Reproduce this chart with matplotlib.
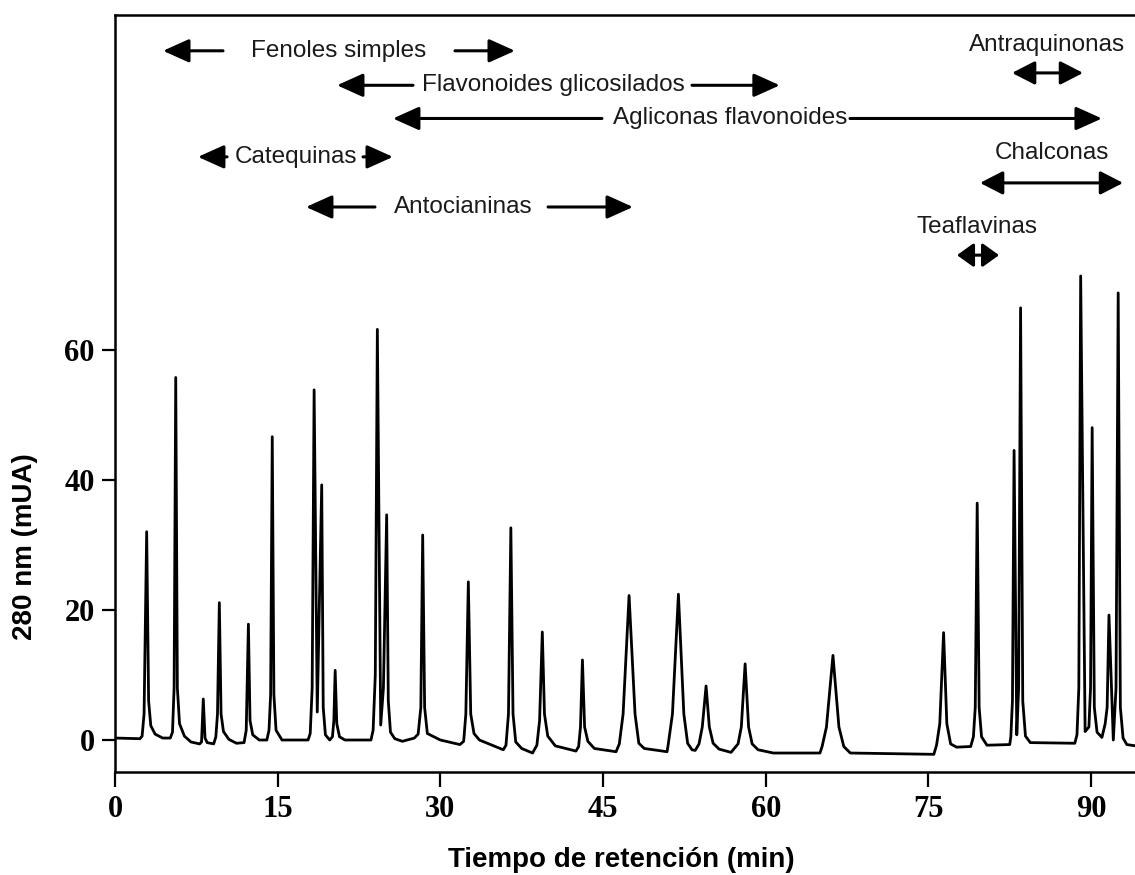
import matplotlib
matplotlib.use("Agg")
import matplotlib.pyplot as plt
from matplotlib.font_manager import FontProperties

# chromatogram trace at 280 nm: retention time (min) and signal (mUA) vertices
tiempo = [
    0.0, 2.3,
    2.5, 2.68, 2.92, 3.1, 3.3, 3.7, 4.4, 5.1,               # pico 1
    5.3, 5.45, 5.6, 5.75, 5.95, 6.4, 7.0, 7.8,              # pico 2
    7.98, 8.14, 8.3, 8.5, 9.1,                              # pico 3
    9.3, 9.45, 9.62, 9.78, 10.0, 10.5, 11.2, 11.9,          # pico 4
    12.1, 12.3, 12.45, 12.7, 13.3, 14.0,                    # pico 5
    14.2, 14.35, 14.5, 14.65, 14.85, 15.4, 17.8,            # pico 6
    18.0, 18.18, 18.36, 18.65, 19.06, 19.2, 19.4, 19.8,     # picos 7-8
    20.05, 20.18, 20.3, 20.45, 20.7, 21.2, 23.6,            # pico 9
    23.8, 24.0, 24.19, 24.5, 24.75, 25.05, 25.2, 25.4, 25.8, 26.5, 27.6, 27.95,  # picos 10-11
    28.2, 28.37, 28.55, 28.8, 30.0, 31.8,                   # pico 12
    32.15, 32.35, 32.58, 32.8, 33.1, 33.6, 35.8,            # pico 13
    36.05, 36.28, 36.5, 36.7, 36.95, 37.5, 38.5,            # pico 14
    38.9, 39.15, 39.4, 39.6, 39.9, 40.6, 42.5,              # pico 15
    42.75, 42.92, 43.1, 43.3, 43.6, 44.2, 46.2,             # pico 16
    46.5, 46.85, 47.4, 47.95, 48.3, 48.8, 50.9,             # pico 17
    51.0, 51.4, 51.95, 52.45, 52.8, 53.2, 53.5,             # pico 18
    53.85, 54.15, 54.5, 54.8, 55.15, 55.7, 56.8,            # pico 19
    57.45, 57.75, 58.1, 58.42, 58.75, 59.3, 60.7, 65.0,     # pico 20
    65.2, 65.6, 66.2, 66.75, 67.2, 67.8, 75.5,              # pico 21
    75.75, 76.05, 76.4, 76.7, 77.05, 77.6, 78.9,            # pico 22
    79.15, 79.32, 79.5, 79.68, 79.9, 80.4, 82.5,            # pico 23
    82.6, 82.75, 82.9, 83.15, 83.32, 83.5, 83.7, 83.95, 84.4, 88.5,  # picos 24-25
    88.7, 88.87, 89.04, 89.45, 89.8, 89.95, 90.1, 90.3, 90.55, 91.0,  # picos 26-27
    91.3, 91.48, 91.65, 92.05, 92.3, 92.5, 92.7, 92.95, 93.3, 94.1,   # picos 28-29
]
senal = [
    0.3, 0.2,
    0.6, 4.0, 32.0, 6.0, 2.2, 0.9, 0.3, 0.3,
    1.2, 8.0, 55.7, 8.0, 2.5, 0.6, -0.3, -0.6,
    -0.3, 6.3, 0.3, -0.4, -0.6,
    0.5, 4.0, 21.1, 4.0, 1.3, 0.1, -0.5, -0.4,
    1.5, 17.8, 3.0, 0.8, 0.0, 0.0,
    1.5, 7.0, 46.6, 7.0, 1.5, 0.0, 0.0,
    1.0, 8.0, 53.8, 4.3, 39.2, 5.0, 0.8, 0.0,
    0.5, 3.0, 10.7, 2.5, 0.5, 0.0, 0.0,
    1.5, 10.0, 63.1, 2.3, 8.0, 34.6, 6.0, 1.2, 0.2, -0.2, 0.3, 0.9,
    5.0, 31.5, 5.0, 1.0, 0.0, -0.7,
    -0.2, 4.0, 24.3, 4.0, 1.0, 0.0, -1.5,
    -0.8, 4.0, 32.6, 4.0, -0.3, -1.3, -2.0,
    -0.8, 3.0, 16.6, 4.0, 0.6, -0.9, -1.7,
    -1.0, 2.0, 12.3, 2.0, -0.2, -1.3, -1.8,
    -0.6, 4.0, 22.2, 4.0, -0.5, -1.3, -1.8,
    -0.8, 4.0, 22.4, 4.0, -0.5, -1.5, -1.6,
    -0.6, 2.0, 8.3, 2.0, -0.5, -1.4, -1.9,
    -0.6, 2.0, 11.7, 2.0, -0.6, -1.5, -2.0, -2.0,
    -1.0, 2.0, 13.0, 2.0, -1.0, -2.0, -2.2,
    -0.8, 2.5, 16.5, 2.5, -0.6, -1.1, -1.0,
    0.5, 5.0, 36.4, 5.0, 0.5, -0.8, -0.7,
    0.5, 6.0, 44.5, 0.8, 8.0, 66.4, 6.0, 0.6, -0.4, -0.5,
    0.8, 8.0, 71.3, 1.3, 2.0, 8.0, 48.0, 5.0, 1.2, 0.4,
    2.5, 5.0, 19.2, 0.0, 8.0, 68.7, 5.0, 0.3, -0.7, -0.9,
]

# compound families and where their names sit
familias = ["Fenoles simples", "Flavonoides glicosilados", "Agliconas flavonoides",
            "Catequinas", "Antocianinas", "Antraquinonas", "Chalconas", "Teaflavinas"]
texto_x = [20.65, 40.4, 56.7, 16.7, 32.1, 85.9, 86.4, 79.45]
texto_y = [105.9, 100.6, 95.5, 89.6, 81.9, 106.8, 90.2, 78.8]

# one-headed arrows: tail x, head x, y
flechas_x0 = [9.96, 31.35, 27.48, 53.2, 44.9, 67.77, 10.33, 22.87, 23.97, 39.93]
flechas_x1 = [4.43, 36.88, 20.47, 61.3, 25.63, 91.0, 7.65, 25.63, 17.61, 47.76]
flechas_y = [105.9, 105.9, 100.6, 100.6, 95.5, 95.5, 89.6, 89.6, 81.9, 81.9]

# double-headed ranges
rangos_x0 = [82.71, 79.76, 77.64]
rangos_x1 = [89.26, 92.95, 81.51]
rangos_y = [102.5, 85.6, 74.5]

fig = plt.figure(figsize=(11.35, 8.75), dpi=100)
ax = fig.add_axes([115 / 1135, 103.3 / 875, 1 - 115 / 1135, 756.7 / 875])

ax.plot(tiempo, senal, color="black", lw=2.0, solid_joinstyle="round")

ax.set_xlim(0, 94.05)
ax.set_ylim(-4.87, 111.4)
ax.set_xticks([0, 15, 30, 45, 60, 75, 90])
ax.set_yticks([0, 20, 40, 60])

tick_font = FontProperties(family="Liberation Serif", weight="bold", size=22)
for lab in ax.get_xticklabels() + ax.get_yticklabels():
    lab.set_fontproperties(tick_font)
ax.tick_params(axis="x", direction="out", length=11, width=1.6, pad=6)
ax.tick_params(axis="y", direction="out", length=9.5, width=1.6, pad=5)

for side in ["left", "bottom", "top"]:
    ax.spines[side].set_linewidth(1.8)
ax.spines["right"].set_visible(False)

ax.set_xlabel("Tiempo de retención (min)", family="Liberation Sans", weight="bold",
              size=20, va="center")
ax.xaxis.set_label_coords(0.496, -0.117)
ax.set_ylabel("280 nm (mUA)", family="Liberation Sans", weight="bold",
              size=20, va="center")
ax.yaxis.set_label_coords(-0.088, 0.297)

for nombre, tx, ty in zip(familias, texto_x, texto_y):
    ax.text(tx, ty, nombre, family="Liberation Sans", size=17.5, color="#1a1a1a",
            ha="center", va="center")

estilo = dict(color="black", lw=2.2, shrinkA=0, shrinkB=0, mutation_scale=20)
for x0, x1, y in zip(flechas_x0, flechas_x1, flechas_y):
    ax.annotate("", xy=(x1, y), xytext=(x0, y),
                arrowprops=dict(arrowstyle="-|>,head_length=0.8,head_width=0.36", **estilo))
for x0, x1, y in zip(rangos_x0, rangos_x1, rangos_y):
    # the short Teaflavinas range needs smaller heads so they don't overlap
    largo = 0.7 if x1 - x0 > 5 else 0.5
    ax.annotate("", xy=(x1, y), xytext=(x0, y),
                arrowprops=dict(arrowstyle=f"<|-|>,head_length={largo},head_width=0.36",
                                **estilo))

fig.savefig("out.png", dpi=100)
